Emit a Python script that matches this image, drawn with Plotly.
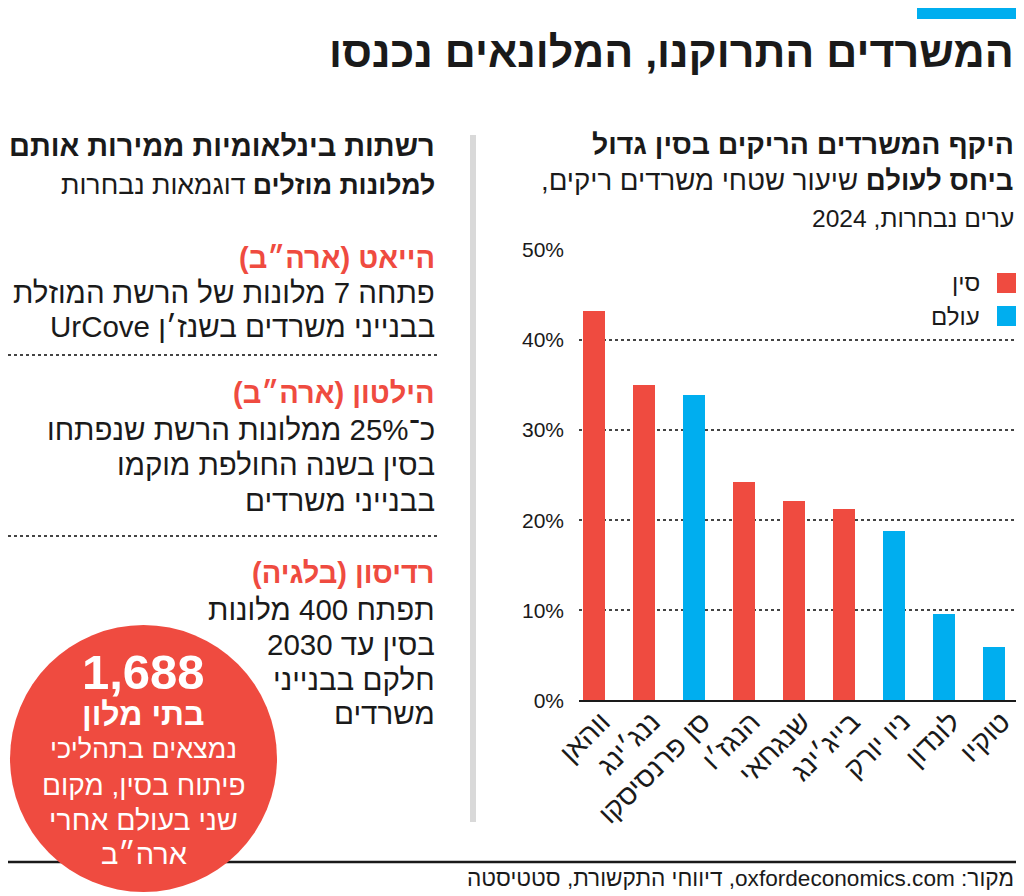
import plotly.graph_objects as go

# ---------------- data ----------------
cities = ["ווהאן", "ננג׳ינג", "סן פרנסיסקו", "הנגז׳ו", "שנגחאי", "בייג׳ינג", "ניו יורק", "לונדון", "טוקיו"]
vacancy = [43.2, 35.0, 33.9, 24.2, 22.1, 21.2, 18.8, 9.6, 5.9]
region = ["סין", "סין", "עולם", "סין", "סין", "סין", "עולם", "עולם", "עולם"]
series_names = ["סין", "עולם"]
y_tick_vals = [0, 10, 20, 30, 40, 50]
y_tick_text = ["0%", "10%", "20%", "30%", "40%", "50%"]

title = "המשרדים התרוקנו, המלונאים נכנסו"
chart_head = ["היקף המשרדים הריקים בסין גדול",
              "<b>ביחס לעולם</b> שיעור שטחי משרדים ריקים,",
              "ערים נבחרות, 2024"]
left_head = ["רשתות בינלאומיות ממירות אותם",
             "<b>למלונות מוזלים</b> דוגמאות נבחרות"]
hotels = [
    ("הייאט (ארה״ב)", ["פתחה 7 מלונות של הרשת המוזלת", "בבנייני משרדים בשנז׳ן UrCove"]),
    ("הילטון (ארה״ב)", ["כ־25% ממלונות הרשת שנפתחו", "בסין בשנה החולפת מוקמו", "בבנייני משרדים"]),
    ("רדיסון (בלגיה)", ["תפתח 400 מלונות", "בסין עד 2030", "חלקם בבנייני", "משרדים"]),
]
circle_number = "1,688"
circle_lines = ["בתי מלון", "נמצאים בתהליכי", "פיתוח בסין, מקום", "שני בעולם אחרי", "ארה״ב"]
source = "מקור: oxfordeconomics.com, דיווחי התקשורת, סטטיסטה"

# ---------------- style ----------------
W, H = 1024, 896
OX, OY = 8, 8          # page offset of the figure (body margin)
RED = "#EF4B40"
BLUE = "#00AEEF"
INK = "#1a1a1a"
FONT = "Liberation Sans"
colors = {"סין": RED, "עולם": BLUE}

RLE, PDF = "\u202b", "\u202c"


def rtl(s):
    return RLE + s + PDF


def X(px):
    return (px - OX) / W


def Y(py):
    return 1 - (py - OY) / H


fig = go.Figure()
for name in series_names:
    xs = [c for c, r in zip(cities, region) if r == name]
    ys = [v for v, r in zip(vacancy, region) if r == name]
    fig.add_trace(go.Bar(x=xs, y=ys, name=name, marker=dict(color=colors[name], line=dict(width=0)),
                         width=0.44, showlegend=False))

annotations = []
shapes = []


def text(s, x, y, size, color=INK, bold=False, anchor="right"):
    t = rtl(s)
    if bold:
        t = "<b>" + t + "</b>"
    annotations.append(dict(text=t, x=X(x), y=Y(y), xref="paper", yref="paper",
                            xanchor=anchor, yanchor="middle", showarrow=False,
                            font=dict(family=FONT, size=size, color=color)))


# top blue bar and title
shapes.append(dict(type="rect", xref="paper", yref="paper", x0=X(917), x1=X(1016), y0=Y(19), y1=Y(7),
                   fillcolor=BLUE, line=dict(width=0)))
text(title, 1016, 52, 43, bold=True)

# chart header
text(chart_head[0], 1016, 144, 28.4, bold=True)
text(chart_head[1], 1016, 180, 27.6)
text(chart_head[2], 1016, 219, 24.6)

# left header
text(left_head[0], 437, 146, 29, bold=True)
text(left_head[1], 437, 185, 26.7)

# hotel blocks
title_y = [258, 393, 573]
body_y = [[292, 326], [430, 464, 500], [609, 644, 679, 713]]
for (hname, lines), ty, bys in zip(hotels, title_y, body_y):
    text(hname, 437, ty, 29, color=RED, bold=True)
    for ln, by in zip(lines, bys):
        text(ln, 437, by, 29.5)
for dy in [355, 536]:
    shapes.append(dict(type="line", xref="paper", yref="paper", x0=X(8), x1=X(437), y0=Y(dy), y1=Y(dy),
                       line=dict(color="#444", width=2, dash="dot")))

# vertical divider
shapes.append(dict(type="line", xref="paper", yref="paper", x0=X(473), x1=X(473), y0=Y(135), y1=Y(822),
                   line=dict(color="#d9d9d9", width=6)))

# footer line and circle
shapes.append(dict(type="line", xref="paper", yref="paper", x0=X(8), x1=X(1016), y0=Y(862), y1=Y(862),
                   line=dict(color=INK, width=2.5)))
shapes.append(dict(type="circle", xref="paper", yref="paper", x0=X(10), x1=X(277), y0=Y(892), y1=Y(625),
                   fillcolor=RED, line=dict(width=0)))
text(circle_number, 143.5, 672, 49, color="white", bold=True, anchor="center")
circle_y = [714, 749, 785, 820, 854]
circle_size = [32, 27, 28, 28.5, 29]
for i, (ln, cy, cs) in enumerate(zip(circle_lines, circle_y, circle_size)):
    text(ln, 143.5, cy, cs, color="white", bold=(i == 0), anchor="center")

text(source, 1016, 878, 22.6)

# legend
leg_y = [283, 316]
for name, ly in zip(series_names, leg_y):
    shapes.append(dict(type="rect", xref="paper", yref="paper", x0=X(997), x1=X(1016), y0=Y(ly + 10),
                       y1=Y(ly - 10), fillcolor=colors[name], line=dict(width=0)))
    text(name, 982, ly, 24)

fig.update_layout(
    width=W, height=H, margin=dict(l=0, r=0, t=0, b=0, pad=0, autoexpand=False),
    paper_bgcolor="white", plot_bgcolor="white",
    barmode="overlay", bargap=0,
    annotations=annotations, shapes=shapes,
    xaxis=dict(domain=[X(579), X(1016)], type="category", categoryorder="array", categoryarray=cities,
               range=[-0.3, 8.44], tickangle=-45, tickfont=dict(family=FONT, size=28, color=INK),
               ticklabelshift=8, ticklabelstandoff=-8,
               showgrid=False, showline=True, linecolor=INK, linewidth=2, ticks="", fixedrange=True,
               automargin=False),
    yaxis=dict(domain=[Y(700.3), Y(250)], range=[0, 50], tickvals=y_tick_vals, ticktext=y_tick_text,
               showgrid=True, gridcolor="#444", gridwidth=1.5, griddash="dot", zeroline=False,
               tickfont=dict(family=FONT, size=21, color=INK), ticklabelstandoff=14, ticks="",
               showline=False, fixedrange=True, automargin=False),
)

fig.write_html("out.html")
